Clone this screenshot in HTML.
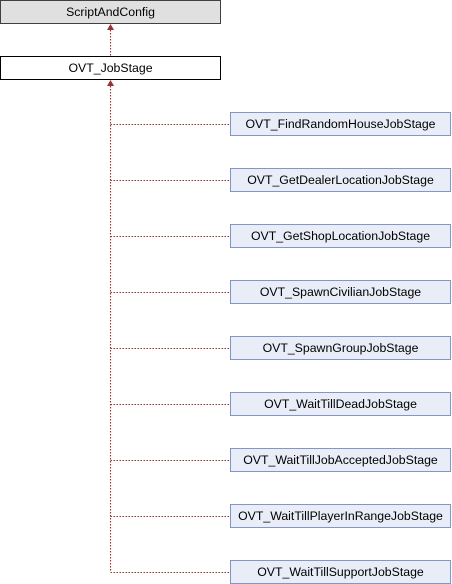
<!DOCTYPE html>
<html><head><style>
body{margin:0;width:452px;height:584px;background:#fff;position:relative;font-family:"Liberation Sans",Arial,sans-serif;font-size:12.3px;overflow:hidden}
.b{position:absolute;box-sizing:border-box;height:24px;line-height:22px;text-align:center;color:#000;white-space:nowrap}
.g{left:0;width:221px;background:#e0e0e0;border:1px solid #404040}
.w{left:0;width:221px;background:#fff;border:1px solid #000}
.c{left:230px;width:221px;background:#e8edf7;border:1px solid #8496c6}
</style></head><body>
<svg width="452" height="584" style="position:absolute;left:0;top:0">
<g stroke="#a03030" stroke-dasharray="1.5,1.5" fill="none">
<line x1="110.5" y1="30" x2="110.5" y2="56"/>
<line x1="110.5" y1="86" x2="110.5" y2="572"/>
<line x1="110.5" y1="124.5" x2="230" y2="124.5"/>
<line x1="110.5" y1="180.5" x2="230" y2="180.5"/>
<line x1="110.5" y1="236.5" x2="230" y2="236.5"/>
<line x1="110.5" y1="292.5" x2="230" y2="292.5"/>
<line x1="110.5" y1="348.5" x2="230" y2="348.5"/>
<line x1="110.5" y1="404.5" x2="230" y2="404.5"/>
<line x1="110.5" y1="460.5" x2="230" y2="460.5"/>
<line x1="110.5" y1="516.5" x2="230" y2="516.5"/>
<line x1="110.5" y1="572.5" x2="230" y2="572.5"/>
</g>
<polygon points="110.5,24 107,30 114,30" fill="#a03030"/>
<polygon points="110.5,80 107,86 114,86" fill="#a03030"/>
</svg>
<div class="b g" style="top:0">ScriptAndConfig</div>
<div class="b w" style="top:56px">OVT_JobStage</div>
<div class="b c" style="top:112px">OVT_FindRandomHouseJobStage</div>
<div class="b c" style="top:168px">OVT_GetDealerLocationJobStage</div>
<div class="b c" style="top:224px">OVT_GetShopLocationJobStage</div>
<div class="b c" style="top:280px">OVT_SpawnCivilianJobStage</div>
<div class="b c" style="top:336px">OVT_SpawnGroupJobStage</div>
<div class="b c" style="top:392px">OVT_WaitTillDeadJobStage</div>
<div class="b c" style="top:448px">OVT_WaitTillJobAcceptedJobStage</div>
<div class="b c" style="top:504px">OVT_WaitTillPlayerInRangeJobStage</div>
<div class="b c" style="top:560px">OVT_WaitTillSupportJobStage</div>
</body></html>
